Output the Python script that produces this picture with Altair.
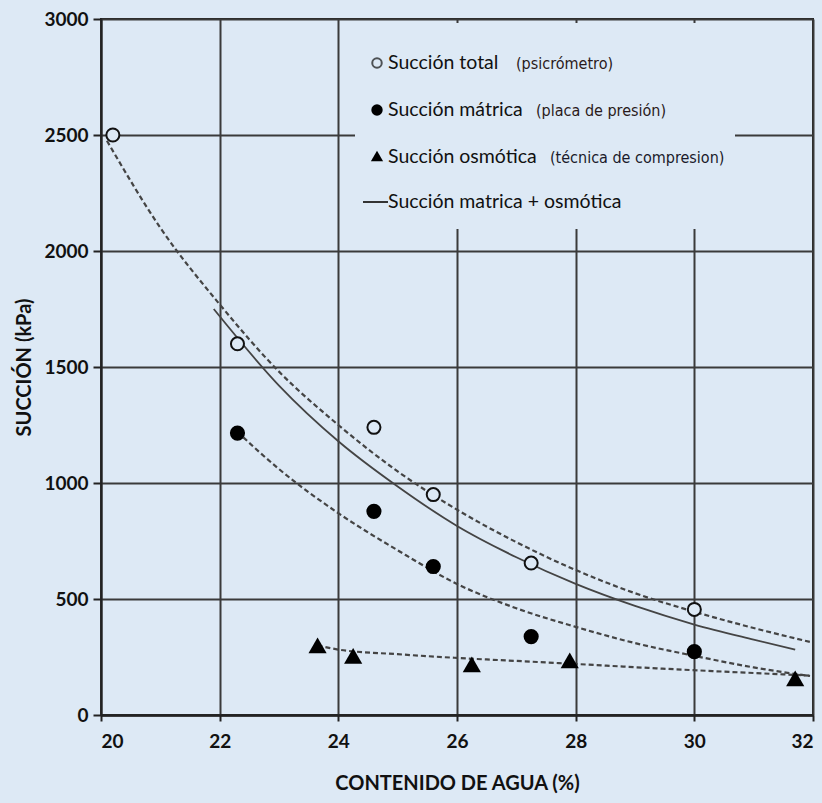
import altair as alt
import pandas as pd

# ---- data ----
total_x = [20.2, 22.3, 24.6, 25.6, 27.25, 30.0]
total_y = [2500, 1600, 1240, 950, 655, 455]

matric_x = [22.3, 24.6, 25.6, 27.25, 30.0]
matric_y = [1215, 878, 640, 338, 273]

osm_x = [23.65, 24.25, 26.25, 27.9, 31.7]
osm_y = [300, 255, 218, 235, 158]

# trend lines
tr_total_x = [20.1, 21, 22, 23, 24, 25, 26, 27, 28, 29, 30, 31, 31.95]
tr_total_y = [2475, 2100, 1770, 1480, 1250, 1050, 885, 745, 625, 525, 445, 375, 315]

tr_sum_x = [21.9, 23, 24, 25, 26, 27, 28, 29, 30, 31, 31.7]
tr_sum_y = [1750, 1420, 1180, 985, 815, 680, 565, 470, 390, 325, 282]

tr_mat_x = [22.3, 23, 24, 25, 26, 27, 28, 29, 30, 31, 31.95]
tr_mat_y = [1220, 1060, 870, 710, 565, 460, 380, 310, 255, 205, 168]

tr_osm_x = [23.65, 24, 25, 26, 27, 28, 29, 30, 31, 31.95]
tr_osm_y = [300, 282, 262, 246, 233, 220, 206, 193, 181, 170]

x_ticks = [20, 22, 24, 26, 28, 30, 32]
y_ticks = [0, 500, 1000, 1500, 2000, 2500, 3000]

BG = "#dde9f5"
FONT = "Lato, Liberation Sans, sans-serif"
NARROW = "DejaVu Sans Condensed, Liberation Sans, sans-serif"

xs = alt.Scale(domain=[20, 32], nice=False)
ys = alt.Scale(domain=[0, 3000], nice=False)

xax = alt.Axis(values=x_ticks, format="d", title="CONTENIDO DE AGUA (%)", grid=True,
               gridColor="#3a3a3a", gridWidth=2, domainColor="#222", domainWidth=2.5,
               tickColor="#222", tickSize=6, tickWidth=2, labelFont=FONT, labelFontSize=19,
               labelFontWeight="bold", labelColor="#111", labelPadding=11,
               titleFont=FONT, titleFontSize=20, titleFontWeight="bold", titleColor="#111",
               titlePadding=22)
yax = alt.Axis(values=y_ticks, format="d", title="SUCCIÓN (kPa)", grid=True,
               gridColor="#3a3a3a", gridWidth=2, domainColor="#222", domainWidth=2,
               tickColor="#222", tickSize=8, tickWidth=2, labelFont=FONT, labelFontSize=19,
               labelFontWeight="bold", labelColor="#111", labelPadding=5,
               titleFont=FONT, titleFontSize=20, titleFontWeight="bold", titleColor="#111",
               titleX=-77, titleY=348, titleBaseline="middle", titleAlign="center")

def line_df(x, y):
    return pd.DataFrame({"x": x, "y": y})

base_x = alt.X("x:Q", scale=xs, axis=xax)
base_y = alt.Y("y:Q", scale=ys, axis=yax)

def dashed(x, y):
    return alt.Chart(line_df(x, y)).mark_line(
        color="#444", strokeWidth=2.2, strokeDash=[5, 3], interpolate="monotone"
    ).encode(x=alt.X("x:Q", scale=xs), y=alt.Y("y:Q", scale=ys))

axes_layer = alt.Chart(line_df(total_x, total_y)).mark_point(opacity=0).encode(x=base_x, y=base_y)

# legend box covering grid
legend_box = alt.Chart(pd.DataFrame({"a": [0]})).mark_rect(fill=BG).encode(
    x=alt.value(254), x2=alt.value(634), y=alt.value(4), y2=alt.value(210))

l_total = dashed(tr_total_x, tr_total_y)
l_mat = dashed(tr_mat_x, tr_mat_y)
l_osm = dashed(tr_osm_x, tr_osm_y)
l_sum = alt.Chart(line_df(tr_sum_x, tr_sum_y)).mark_line(
    color="#444", strokeWidth=1.8, interpolate="monotone"
).encode(x=alt.X("x:Q", scale=xs), y=alt.Y("y:Q", scale=ys))

p_total = alt.Chart(line_df(total_x, total_y)).mark_point(
    shape="circle", filled=False, color="#111", size=170, strokeWidth=2, fill=BG, fillOpacity=1
).encode(x=alt.X("x:Q", scale=xs), y=alt.Y("y:Q", scale=ys))
p_mat = alt.Chart(line_df(matric_x, matric_y)).mark_point(
    shape="circle", filled=True, color="#000", size=230, opacity=1
).encode(x=alt.X("x:Q", scale=xs), y=alt.Y("y:Q", scale=ys))
p_osm = alt.Chart(line_df(osm_x, osm_y)).mark_point(
    shape="triangle-up", filled=True, color="#000", size=330, opacity=1
).encode(x=alt.X("x:Q", scale=xs), y=alt.Y("y:Q", scale=ys))

# manual legend (pixel layout inside plot area)
one = pd.DataFrame({"a": [0]})
lg = []
lg.append(alt.Chart(one).mark_point(shape="circle", filled=False, color="#111", size=90, strokeWidth=2).encode(
    x=alt.value(276), y=alt.value(44)))
lg.append(alt.Chart(one).mark_point(shape="circle", filled=True, color="#000", size=130, opacity=1).encode(
    x=alt.value(276), y=alt.value(91)))
lg.append(alt.Chart(one).mark_point(shape="triangle-up", filled=True, color="#000", size=150, opacity=1).encode(
    x=alt.value(276), y=alt.value(137)))
lg.append(alt.Chart(one).mark_rule(color="#333", strokeWidth=2).encode(
    x=alt.value(262), x2=alt.value(287), y=alt.value(183)))

def txt(s, x, y, size, font=FONT, color="#111"):
    return alt.Chart(one).mark_text(text=s, align="left", baseline="middle", font=font,
                                    fontSize=size, color=color).encode(x=alt.value(x), y=alt.value(y))

lg += [
    txt("Succión total", 287, 44, 19.5),
    txt("(psicrómetro)", 415, 45, 16, NARROW, "#2a1a1a"),
    txt("Succión mátrica", 287, 91, 19.5),
    txt("(placa de presión)", 435, 92, 16, NARROW, "#2a1a1a"),
    txt("Succión osmótica", 287, 138, 19.5),
    txt("(técnica de compresion)", 449, 139, 16, NARROW, "#1a1a2a"),
    txt("Succión matrica + osmótica", 287, 183, 19.5),
]

chart = alt.layer(
    axes_layer, legend_box, l_total, l_sum, l_mat, l_osm, p_total, p_mat, p_osm, *lg
).properties(
    width=712, height=696, background=BG,
    padding={"left": 101, "top": 19, "right": 9, "bottom": 88},
    autosize=alt.AutoSizeParams(type="none")
).configure_view(stroke="#222", strokeWidth=2, fill=BG)

chart.save("out.html", embed_options={"renderer": "svg", "actions": False})
